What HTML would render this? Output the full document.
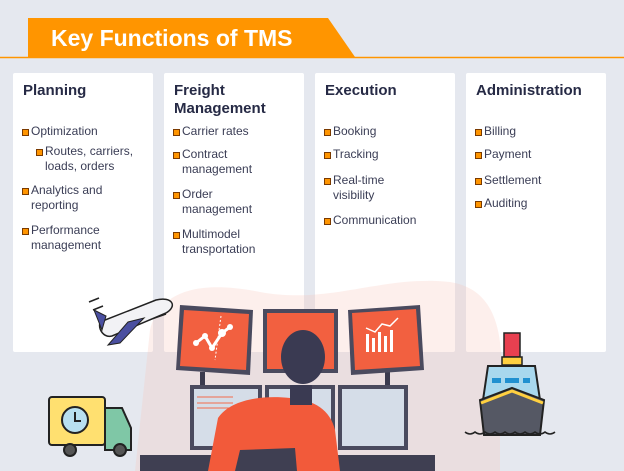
<!DOCTYPE html>
<html><head><meta charset="utf-8"><style>
*{margin:0;padding:0;box-sizing:border-box}
body{width:624px;height:471px;background:#e5e8ef;position:relative;overflow:hidden;font-family:"Liberation Sans",sans-serif}
.card{position:absolute;top:73px;width:140px;height:279px;background:#fff;border-radius:2px}
.t{position:absolute;left:10px;top:9px;font-weight:bold;font-size:15px;line-height:18px;color:#262a45}
.i{position:absolute;font-size:12px;line-height:15px;color:#3a3d55}
.i:before{content:"";position:absolute;left:-9px;top:5px;width:5px;height:5px;background:#ff9500;border:1px solid #7a3a00}
</style></head><body>
<svg width="624" height="471" style="position:absolute;left:0;top:0">
<line x1="0" y1="57.5" x2="624" y2="57.5" stroke="#ff9500" stroke-width="1.5"/>
<polygon points="28,18 328,18 355,57 28,57" fill="#ff9500"/>
</svg>
<div style="position:absolute;left:51px;top:23px;font-size:23px;font-weight:bold;color:#fff;line-height:30px">Key Functions of TMS</div>

<div class="card" style="left:13px"><div class="t">Planning</div>
<div class="i" style="left:18px;top:51px">Optimization</div>
<div class="i" style="left:32px;top:71px">Routes, carriers,<br>loads, orders</div>
<div class="i" style="left:18px;top:110px">Analytics and<br>reporting</div>
<div class="i" style="left:18px;top:150px">Performance<br>management</div></div>

<div class="card" style="left:164px"><div class="t">Freight<br>Management</div>
<div class="i" style="left:18px;top:51px">Carrier rates</div>
<div class="i" style="left:18px;top:74px">Contract<br>management</div>
<div class="i" style="left:18px;top:114px">Order<br>management</div>
<div class="i" style="left:18px;top:154px">Multimodel<br>transportation</div></div>

<div class="card" style="left:315px"><div class="t">Execution</div>
<div class="i" style="left:18px;top:51px">Booking</div>
<div class="i" style="left:18px;top:74px">Tracking</div>
<div class="i" style="left:18px;top:100px">Real-time<br>visibility</div>
<div class="i" style="left:18px;top:140px">Communication</div></div>

<div class="card" style="left:466px"><div class="t">Administration</div>
<div class="i" style="left:18px;top:51px">Billing</div>
<div class="i" style="left:18px;top:74px">Payment</div>
<div class="i" style="left:18px;top:100px">Settlement</div>
<div class="i" style="left:18px;top:123px">Auditing</div></div>

<svg width="624" height="471" style="position:absolute;left:0;top:0">
<path d="M150,330 C160,290 200,280 260,292 C330,305 380,275 450,282 C500,290 505,340 500,400 L500,471 L135,471 Z" fill="#f9c6bb" opacity="0.28"/>
<rect x="190" y="385" width="72" height="65" fill="#4a4a5e"/><rect x="194" y="389" width="64" height="57" fill="#d5dde8"/>
<rect x="265" y="385" width="70" height="65" fill="#4a4a5e"/><rect x="269" y="389" width="62" height="57" fill="#d5dde8"/>
<rect x="338" y="385" width="70" height="65" fill="#4a4a5e"/><rect x="342" y="389" width="62" height="57" fill="#d5dde8"/>
<line x1="197" y1="397" x2="233" y2="397" stroke="#f26a4b"/><line x1="197" y1="403" x2="233" y2="403" stroke="#f26a4b"/><line x1="197" y1="408" x2="233" y2="408" stroke="#f26a4b"/>
<rect x="200" y="372" width="5" height="13" fill="#3a3a4e"/><rect x="385" y="372" width="5" height="13" fill="#3a3a4e"/>
<rect x="140" y="455" width="295" height="16" fill="#3f3f52"/>
<polygon points="180,305 253,310 250,375 176,370" fill="#4a4a5e"/><polygon points="184,310 249,314 246,370 180,366" fill="#f26040"/>
<rect x="263" y="309" width="75" height="64" fill="#4a4a5e"/><rect x="267" y="313" width="67" height="56" fill="#f26040"/>
<polygon points="348,310 420,305 424,370 351,375" fill="#4a4a5e"/><polygon points="352,313 416,309 420,366 355,370" fill="#f26040"/>
<polyline points="196,343 205,336 212,348 222,333 230,327" fill="none" stroke="#fff" stroke-width="3"/>
<circle cx="196" cy="343" r="3" fill="#fff"/><circle cx="205" cy="336" r="3" fill="#fff"/><circle cx="212" cy="348" r="3" fill="#fff"/><circle cx="222" cy="333" r="4" fill="#fff"/><circle cx="230" cy="327" r="3" fill="#fff"/>
<line x1="221" y1="316" x2="215" y2="360" stroke="#fff" stroke-dasharray="2,2"/>
<g fill="#fff"><rect x="366" y="334" width="3" height="18"/><rect x="372" y="338" width="3" height="14"/><rect x="378" y="332" width="3" height="20"/><rect x="384" y="336" width="3" height="16"/><rect x="390" y="330" width="3" height="22"/></g>
<polyline points="366,328 375,332 382,324 390,326 398,318" fill="none" stroke="#fff" stroke-width="1.5"/>
<path d="M208,471 L218,418 C230,400 260,395 290,398 C315,400 330,410 335,430 L340,471 Z" fill="#f25a3a"/>
<rect x="290" y="385" width="22" height="20" fill="#3a3a52"/>
<ellipse cx="303" cy="357" rx="22" ry="27" fill="#3a3a52"/>
<path d="M235,471 L240,450 L295,448 L297,471 Z" fill="#3f3f52"/>
<line x1="89" y1="302" x2="99" y2="298" stroke="#222" stroke-width="1.5"/><line x1="93" y1="310" x2="103" y2="306" stroke="#222" stroke-width="1.5"/><line x1="140" y1="323" x2="166" y2="314" stroke="#222" stroke-width="1.5"/>
<path d="M100,322 L156,300 C172,296 178,306 166,313 L112,336 C104,338 98,330 100,322 Z" fill="#f2f2f5" stroke="#222" stroke-width="1.5"/>
<polygon points="94,310 106,316 102,330" fill="#4a4fa0" stroke="#222"/>
<polygon points="128,322 108,345 120,343 144,318" fill="#4a4fa0" stroke="#222"/>
<rect x="49" y="397" width="56" height="48" rx="3" fill="#ffe070" stroke="#222" stroke-width="2"/>
<path d="M105,408 L122,408 L131,428 L131,450 L105,450 Z" fill="#7fc7a6" stroke="#222" stroke-width="2"/>
<circle cx="75" cy="420" r="13" fill="#b8e0f0" stroke="#222" stroke-width="2"/>
<polyline points="75,412 75,421 81,421" fill="none" stroke="#222" stroke-width="2"/>
<circle cx="70" cy="450" r="6" fill="#555" stroke="#222" stroke-width="2"/><circle cx="120" cy="450" r="6" fill="#555" stroke="#222" stroke-width="2"/>
<rect x="504" y="333" width="16" height="24" fill="#e84050" stroke="#222" stroke-width="1.5"/>
<rect x="502" y="357" width="20" height="8" fill="#ffd040" stroke="#222" stroke-width="1.5"/>
<path d="M488,366 L535,366 L540,400 L483,400 Z" fill="#a8d8ee" stroke="#222" stroke-width="2"/>
<rect x="492" y="378" width="9" height="5" fill="#2090d0"/><rect x="505" y="378" width="14" height="5" fill="#2090d0"/><rect x="523" y="378" width="7" height="5" fill="#2090d0"/>
<path d="M480,400 L512,388 L544,400 L540,435 L484,435 Z" fill="#555864" stroke="#222" stroke-width="2"/>
<path d="M481,403 L512,391 L543,403" fill="none" stroke="#ffd040" stroke-width="3"/>
<path d="M465,432 q5,4 10,0 q5,4 10,0 q5,4 10,0 q5,4 10,0 q5,4 10,0 q5,4 10,0 q5,4 10,0 q5,4 10,0 q5,4 10,0" fill="none" stroke="#222" stroke-width="1.5"/>
</svg>
</body></html>
